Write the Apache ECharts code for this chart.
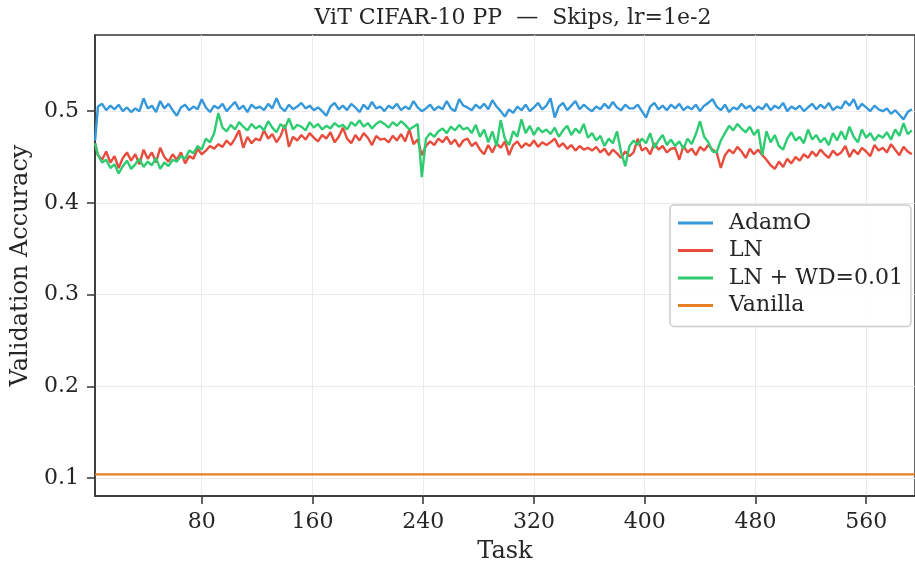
<!DOCTYPE html>
<html>
<head>
<meta charset="utf-8">
<script src="https://cdn.jsdelivr.net/npm/echarts@6/dist/echarts.min.js"></script>
<style>
html,body{margin:0;padding:0;background:#fff;}
#chart{width:915px;height:569px;}
</style>
</head>
<body>
<div id="chart"></div>
<script>
// ---- data ----
const tasks = [
3,5,8,11,14,17,20,23,26,29,
32,35,38,41,44,47,50,53,56,59,
62,65,68,71,74,77,80,83,86,89,
92,95,98,101,104,107,110,113,116,119,
122,125,128,131,134,137,140,143,146,149,
152,155,158,161,164,167,170,173,176,179,
182,185,188,191,194,197,200,203,206,209,
212,215,218,221,224,227,230,233,236,239,
242,245,248,251,254,257,260,263,266,269,
272,275,278,281,284,287,290,293,296,299,
302,305,308,311,314,317,320,323,326,329,
332,335,338,341,344,347,350,353,356,359,
362,365,368,371,374,377,380,383,386,389,
392,395,398,401,404,407,410,413,416,419,
422,425,428,431,434,437,440,443,446,449,
452,455,458,461,464,467,470,473,476,479,
482,485,488,491,494,497,500,503,506,509,
512,515,518,521,524,527,530,533,536,539,
542,545,548,551,554,557,560,563,566,569,
572,575,578,581,584,587,590,593
];

const adamO = [
0.468,0.505,0.508,0.501,0.506,0.502,0.507,0.500,0.504,0.499,
0.503,0.500,0.514,0.503,0.506,0.499,0.511,0.503,0.508,0.501,
0.495,0.504,0.507,0.501,0.505,0.502,0.513,0.504,0.499,0.506,
0.503,0.508,0.500,0.505,0.510,0.502,0.506,0.499,0.507,0.503,
0.505,0.501,0.508,0.503,0.514,0.504,0.500,0.507,0.502,0.505,
0.509,0.503,0.506,0.501,0.504,0.500,0.495,0.505,0.509,0.502,
0.506,0.501,0.508,0.504,0.499,0.507,0.502,0.510,0.503,0.505,
0.500,0.506,0.503,0.508,0.501,0.505,0.502,0.511,0.504,0.500,
0.503,0.507,0.501,0.505,0.502,0.511,0.503,0.500,0.513,0.506,
0.504,0.501,0.507,0.503,0.508,0.502,0.512,0.505,0.500,0.494,
0.502,0.498,0.505,0.501,0.507,0.500,0.504,0.509,0.502,0.506,
0.514,0.493,0.505,0.509,0.501,0.506,0.511,0.502,0.507,0.503,
0.500,0.505,0.502,0.508,0.503,0.510,0.504,0.501,0.507,0.503,
0.503,0.507,0.500,0.493,0.505,0.509,0.502,0.506,0.501,0.507,
0.503,0.508,0.501,0.505,0.502,0.507,0.500,0.506,0.509,0.513,
0.505,0.501,0.507,0.499,0.504,0.502,0.508,0.503,0.506,0.500,
0.505,0.502,0.508,0.501,0.506,0.503,0.509,0.500,0.505,0.502,
0.506,0.500,0.504,0.508,0.502,0.507,0.503,0.509,0.501,0.505,
0.503,0.511,0.506,0.513,0.502,0.508,0.504,0.500,0.506,0.502,
0.500,0.503,0.497,0.501,0.496,0.491,0.499,0.502
];

const ln = [
0.465,0.452,0.447,0.456,0.444,0.451,0.438,0.449,0.455,0.446,
0.453,0.442,0.458,0.448,0.455,0.444,0.460,0.450,0.445,0.453,
0.447,0.455,0.443,0.451,0.448,0.459,0.453,0.457,0.462,0.459,
0.464,0.461,0.468,0.463,0.470,0.479,0.460,0.472,0.465,0.470,
0.468,0.479,0.470,0.475,0.466,0.473,0.485,0.461,0.472,0.468,
0.474,0.469,0.476,0.471,0.467,0.474,0.470,0.477,0.466,0.472,
0.482,0.470,0.465,0.474,0.468,0.476,0.471,0.463,0.473,0.469,
0.470,0.466,0.473,0.468,0.475,0.467,0.480,0.464,0.469,0.452,
0.462,0.467,0.463,0.470,0.466,0.472,0.464,0.469,0.461,0.468,
0.470,0.462,0.466,0.458,0.453,0.463,0.455,0.465,0.460,0.467,
0.452,0.463,0.467,0.460,0.465,0.462,0.468,0.461,0.466,0.463,
0.466,0.470,0.461,0.465,0.459,0.463,0.457,0.462,0.458,0.460,
0.457,0.461,0.455,0.459,0.452,0.458,0.454,0.449,0.456,0.451,
0.455,0.470,0.457,0.460,0.453,0.465,0.458,0.462,0.455,0.459,
0.460,0.447,0.462,0.455,0.459,0.452,0.461,0.457,0.463,0.458,
0.455,0.438,0.452,0.458,0.454,0.461,0.456,0.449,0.459,0.453,
0.458,0.452,0.447,0.441,0.437,0.445,0.439,0.448,0.443,0.450,
0.446,0.453,0.449,0.456,0.451,0.458,0.453,0.449,0.457,0.452,
0.455,0.462,0.450,0.458,0.453,0.460,0.456,0.451,0.463,0.457,
0.460,0.455,0.464,0.458,0.452,0.461,0.456,0.453
];

const lnWd = [
0.465,0.452,0.444,0.447,0.438,0.442,0.432,0.440,0.446,0.437,
0.442,0.448,0.439,0.445,0.441,0.449,0.437,0.444,0.440,0.447,
0.445,0.451,0.448,0.457,0.454,0.462,0.458,0.470,0.466,0.476,
0.498,0.482,0.478,0.485,0.480,0.488,0.483,0.479,0.486,0.481,
0.484,0.479,0.489,0.482,0.477,0.486,0.481,0.492,0.480,0.485,
0.483,0.479,0.488,0.482,0.486,0.480,0.484,0.481,0.487,0.483,
0.485,0.480,0.488,0.484,0.490,0.483,0.487,0.481,0.486,0.489,
0.486,0.482,0.488,0.484,0.489,0.485,0.480,0.483,0.486,0.428,
0.470,0.476,0.472,0.478,0.481,0.476,0.483,0.479,0.485,0.480,
0.482,0.476,0.485,0.472,0.480,0.466,0.478,0.462,0.490,0.470,
0.463,0.478,0.472,0.491,0.476,0.484,0.474,0.482,0.477,0.480,
0.475,0.482,0.472,0.479,0.484,0.474,0.481,0.476,0.486,0.471,
0.476,0.468,0.473,0.462,0.470,0.465,0.478,0.455,0.440,0.462,
0.468,0.463,0.470,0.465,0.476,0.460,0.468,0.474,0.463,0.469,
0.462,0.467,0.459,0.470,0.464,0.475,0.489,0.472,0.466,0.456,
0.455,0.468,0.476,0.484,0.479,0.486,0.481,0.477,0.483,0.474,
0.480,0.452,0.478,0.466,0.474,0.462,0.458,0.470,0.477,0.468,
0.472,0.465,0.480,0.469,0.474,0.466,0.471,0.463,0.476,0.468,
0.478,0.469,0.483,0.472,0.466,0.480,0.471,0.476,0.468,0.474,
0.471,0.477,0.469,0.480,0.473,0.487,0.475,0.479
];

const vanillaTasks = [3, 100, 200, 300, 400, 500, 595];
const vanilla = [0.104, 0.104, 0.104, 0.104, 0.104, 0.104, 0.104];

const seriesNames = ['AdamO', 'LN', 'LN + WD=0.01', 'Vanilla'];
const seriesColors = ['#3498db', '#e74c3c', '#2ecc71', '#e67e22'];
const xTicks = [80, 160, 240, 320, 400, 480, 560];
const yTicks = [0.1, 0.2, 0.3, 0.4, 0.5];
const titleText = 'ViT CIFAR-10 PP  \u2014  Skips, lr=1e-2';

// ---- chart ----
const FONT = '"DejaVu Serif", serif';
const pair = (xs, ys) => ys.map((v, i) => [xs[i], v]);
const seriesData = [pair(tasks, adamO), pair(tasks, ln), pair(tasks, lnWd), pair(vanillaTasks, vanilla)];

const chart = echarts.init(document.getElementById('chart'), null, {renderer: 'canvas'});
chart.setOption({
  animation: false,
  backgroundColor: '#ffffff',
  title: {
    text: titleText,
    left: 508, top: 2, textAlign: 'center',
    textStyle: {fontFamily: FONT, fontSize: 22, fontWeight: 'normal', color: '#262626'}
  },
  grid: {
    left: 95, top: 35, right: -2, bottom: 73,
    show: true, borderColor: '#333333', borderWidth: 1.5, backgroundColor: 'transparent'
  },
  legend: {
    data: seriesNames,
    orient: 'vertical',
    left: 670, top: 205,
    padding: [7, 8, 10, 8],
    itemGap: 5.5,
    itemWidth: 35, itemHeight: 3,
    icon: 'rect',
    backgroundColor: 'rgba(255,255,255,0.85)',
    borderColor: '#cccccc', borderWidth: 1.5, borderRadius: 4,
    textStyle: {fontFamily: FONT, fontSize: 22, color: '#262626', lineHeight: 22, padding: [0, 0, 0, 11]}
  },
  xAxis: {
    type: 'value',
    min: 2.9, max: 595.3,
    name: 'Task', nameLocation: 'middle', nameGap: 44,
    nameTextStyle: {fontFamily: FONT, fontSize: 24, color: '#262626'},
    axisLine: {show: true, lineStyle: {color: '#333333', width: 1.5}},
    axisTick: {show: true, length: 8, lineStyle: {color: '#333333', width: 1.5}, customValues: xTicks},
    axisLabel: {fontFamily: FONT, fontSize: 22, color: '#262626', margin: 15, customValues: xTicks},
    splitLine: {show: true, lineStyle: {color: '#ebebeb', width: 1}}
  },
  yAxis: {
    type: 'value',
    min: 0.0804, max: 0.583,
    name: 'Validation Accuracy', nameLocation: 'middle', nameGap: 61,
    nameTextStyle: {fontFamily: FONT, fontSize: 24, color: '#262626'},
    axisLine: {show: true, lineStyle: {color: '#333333', width: 1.5}},
    axisTick: {show: true, length: 8, lineStyle: {color: '#333333', width: 1.5}, customValues: yTicks},
    axisLabel: {fontFamily: FONT, fontSize: 22, color: '#262626', margin: 16, customValues: yTicks,
      formatter: v => v.toFixed(1)},
    splitLine: {show: true, lineStyle: {color: '#ebebeb', width: 1}}
  },
  series: seriesNames.map((n, i) => ({
    name: n, type: 'line', data: seriesData[i],
    showSymbol: false, symbol: 'none', clip: true,
    lineStyle: {color: seriesColors[i], width: 2.4},
    itemStyle: {color: seriesColors[i]},
    z: 2
  }))
});
</script>
</body>
</html>
